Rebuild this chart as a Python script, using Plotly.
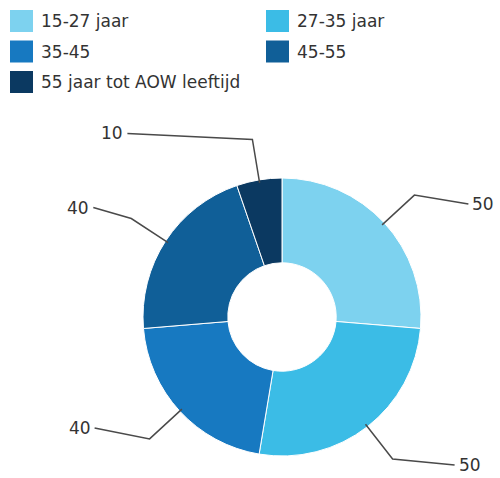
import math
import plotly.graph_objects as go

categories = ["15-27 jaar", "27-35 jaar", "35-45", "45-55", "55 jaar tot AOW leeftijd"]
values = [50, 50, 40, 40, 10]
colors = ["#7dd2ef", "#3bbce6", "#1779c1", "#105f98", "#0b3961"]

W, H = 500, 478
CX, CY, R = 282, 317, 139
HOLE = 0.39
ELBOW_R = 180
# label offsets from the elbow point (layout only)
label_offsets = [(54, 9), (62, 6), (-55, -11), (-38, -11), (-125, -6)]

fig = go.Figure()
fig.add_trace(go.Pie(
    labels=categories, values=values, sort=False, direction="clockwise", rotation=0,
    hole=HOLE, marker=dict(colors=colors, line=dict(color="white", width=1)),
    textinfo="none", hoverinfo="label+value", showlegend=False,
    domain=dict(x=[(CX - R) / W, (CX + R) / W], y=[(H - CY - R) / H, (H - CY + R) / H]),
))

# invisible pixel-aligned axes for annotations
fig.update_xaxes(range=[0, W], visible=False, fixedrange=True)
fig.update_yaxes(range=[H, 0], visible=False, fixedrange=True)

total = sum(values)
shapes = []
annotations = []
cum = 0
for i, v in enumerate(values):
    mid = (cum + v / 2) / total * 2 * math.pi
    cum += v
    sx, sy = CX + (R - 3) * math.sin(mid), CY - (R - 3) * math.cos(mid)
    ex, ey = CX + ELBOW_R * math.sin(mid), CY - ELBOW_R * math.cos(mid)
    dx, dy = label_offsets[i]
    lx, ly = ex + dx, ey + dy
    shapes.append(dict(type="path", xref="x", yref="y",
                       path=f"M {sx:.1f},{sy:.1f} L {ex:.1f},{ey:.1f} L {lx:.1f},{ly:.1f}",
                       line=dict(color="#4a4a4a", width=1.5)))
    annotations.append(dict(x=lx + (2 if dx > 0 else -2), y=ly, xref="x", yref="y",
                            text=str(v), showarrow=False,
                            xanchor="left" if dx > 0 else "right", yanchor="middle",
                            font=dict(family="DejaVu Sans", size=17, color="#333333")))

# manual legend (two columns)
col_x = [10, 266]
row_y = [10, 40.5, 71]
for i, (cat, col) in enumerate(zip(categories, colors)):
    c, r = i % 2, i // 2
    x0, y0 = col_x[c], row_y[r]
    shapes.append(dict(type="rect", xref="x", yref="y", x0=x0, x1=x0 + 23, y0=y0, y1=y0 + 22,
                       fillcolor=col, line=dict(width=0)))
    annotations.append(dict(x=x0 + 29, y=y0 + 11, xref="x", yref="y", text=cat, showarrow=False,
                            xanchor="left", yanchor="middle",
                            font=dict(family="DejaVu Sans", size=17, color="#333333")))

fig.update_layout(
    width=W, height=H, margin=dict(l=0, r=0, t=0, b=0),
    paper_bgcolor="white", plot_bgcolor="white",
    shapes=shapes, annotations=annotations, showlegend=False,
)
fig.add_trace(go.Scatter(x=[None], y=[None], showlegend=False, hoverinfo="skip"))

fig.write_html("out.html", config={"displayModeBar": False},
               post_script="document.body.style.margin='0';document.body.style.overflow='hidden';")
